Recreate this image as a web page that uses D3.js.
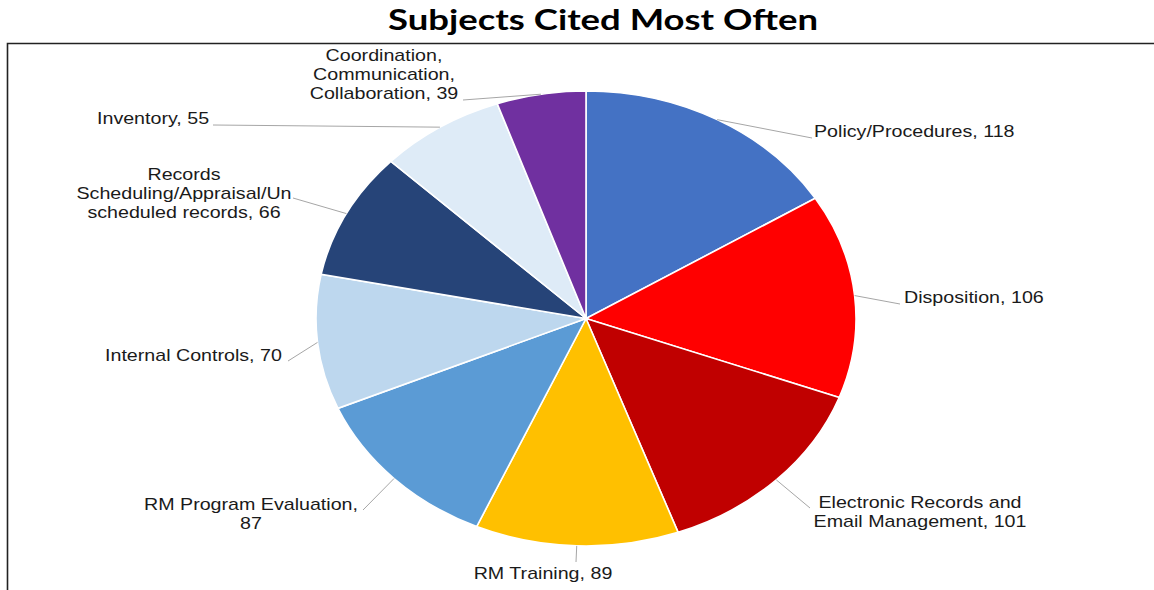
<!DOCTYPE html>
<html><head><meta charset="utf-8">
<script src="https://cdn.jsdelivr.net/npm/d3@7"></script>
<style>
html,body{margin:0;padding:0;background:#fff;}
svg{display:block;}
</style></head>
<body>
<svg id="chart" width="1154" height="590"></svg>
<script>
// ---- data ----
const categories = ["Policy/Procedures","Disposition","Electronic Records and Email Management","RM Training","RM Program Evaluation","Internal Controls","Records Scheduling/Appraisal/Unscheduled records","Inventory","Coordination, Communication, Collaboration"];
const values = [118,106,101,89,87,70,66,55,39];
const labelLines = [
  ["Policy/Procedures, 118"],
  ["Disposition, 106"],
  ["Electronic Records and","Email Management, 101"],
  ["RM Training, 89"],
  ["RM Program Evaluation,","87"],
  ["Internal Controls, 70"],
  ["Records","Scheduling/Appraisal/Un","scheduled records, 66"],
  ["Inventory, 55"],
  ["Coordination,","Communication,","Collaboration, 39"]
];
const colors = ["#4472C4","#FF0000","#C00000","#FFC000","#5B9BD5","#BDD7EE","#264478","#DEEBF7","#7030A0"];
const titleText = "Subjects Cited Most Often";

// ---- layout ----
const cx = 586, cy = 318.5, rx = 270, ry = 227.5;
const sx = rx / ry;
const textStretch = 1.17;
const lineH = 19;
// label anchors: leader end point, text anchor x, first baseline y, alignment
const labelLayout = [
  {ex:812, ey:138, tx:814, ty:137, anchor:"start"},
  {ex:900, ey:304, tx:904, ty:303, anchor:"start"},
  {ex:810, ey:508, tx:920, ty:508, anchor:"middle"},
  {ex:576, ey:562, tx:543, ty:579, anchor:"middle"},
  {ex:363, ey:510, tx:251, ty:510, anchor:"middle"},
  {ex:288, ey:361, tx:105, ty:361, anchor:"start"},
  {ex:293, ey:198, tx:184, ty:180, anchor:"middle"},
  {ex:213, ey:125, tx:97,  ty:124, anchor:"start"},
  {ex:463, ey:100, tx:384, ty:61,  anchor:"middle"}
];

const svg = d3.select("#chart");

// title
svg.append("text")
  .attr("x", 603).attr("y", 30)
  .attr("text-anchor","middle")
  .attr("font-family","Lato, 'Open Sans', sans-serif")
  .attr("font-weight", 700)
  .attr("font-size", 29)
  .attr("fill","#000")
  .attr("textLength", 430)
  .attr("lengthAdjust","spacingAndGlyphs")
  .text(titleText);

// frame
svg.append("path")
  .attr("d", d3.line()([[7.5,590],[7.5,43.5],[1154,43.5]]))
  .attr("fill","none").attr("stroke","#222").attr("stroke-width",1.6);

// pie
const pie = d3.pie().sort(null).value(d => d)(values);
const arc = d3.arc().innerRadius(0).outerRadius(ry);
const g = svg.append("g").attr("transform", `translate(${cx},${cy}) scale(${sx},1)`);
g.selectAll("path.slice").data(pie).join("path")
  .attr("class","slice")
  .attr("d", arc)
  .attr("fill", (d,i) => colors[i])
  .attr("stroke","#fff")
  .attr("stroke-width",1.6)
  .attr("vector-effect","non-scaling-stroke");

// leader lines
const leaders = svg.append("g");
pie.forEach((d,i) => {
  const a = (d.startAngle + d.endAngle) / 2;
  const px = cx + rx * Math.sin(a), py = cy - ry * Math.cos(a);
  const L = labelLayout[i];
  leaders.append("path")
    .attr("d", d3.line()([[px,py],[L.ex,L.ey]]))
    .attr("fill","none").attr("stroke","#A6A6A6").attr("stroke-width",1);
});

// labels
const labels = svg.append("g")
  .attr("font-family","'Liberation Sans', Arial, sans-serif")
  .attr("font-size",16.8).attr("fill","#1a1a1a");
labelLines.forEach((lines,i) => {
  const L = labelLayout[i];
  const t = labels.append("text")
    .attr("transform", `translate(${L.tx},${L.ty}) scale(${textStretch},1)`)
    .attr("text-anchor", L.anchor);
  lines.forEach((s,j) => t.append("tspan").attr("x",0).attr("y", j*lineH).text(s));
});
</script>
</body></html>
